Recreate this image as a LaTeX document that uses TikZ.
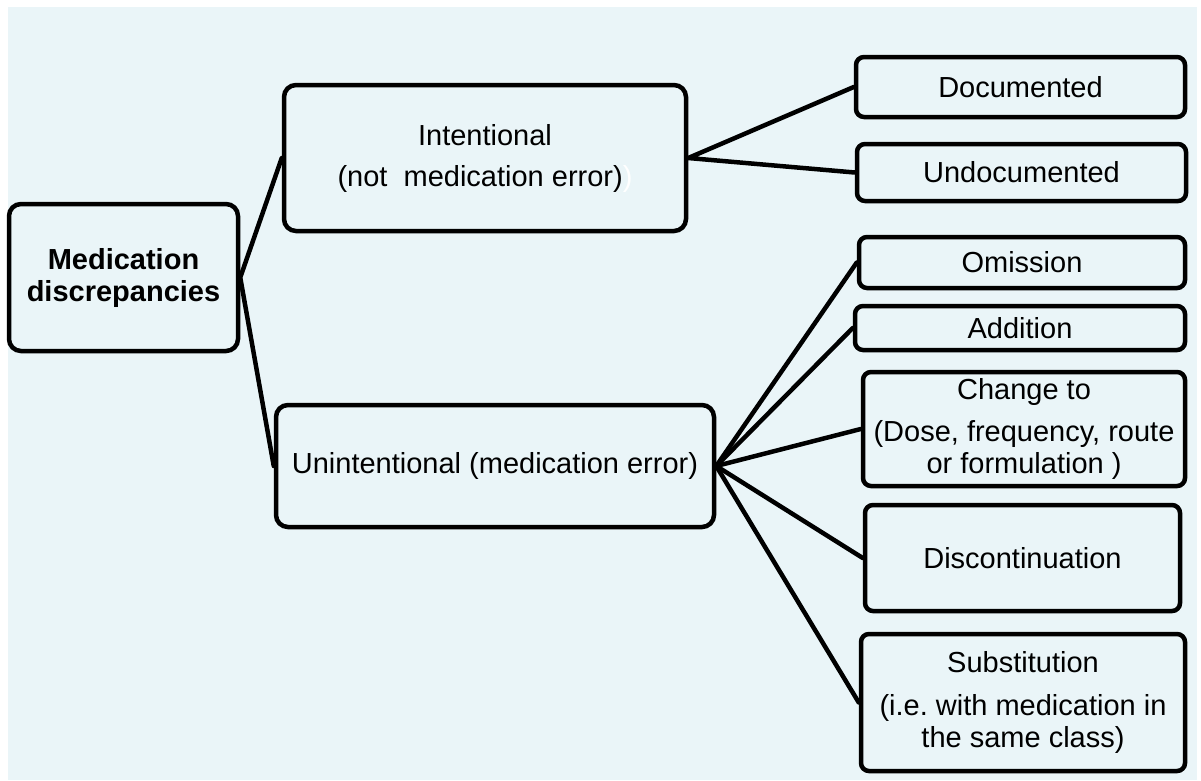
\documentclass[tikz,border=0pt]{standalone}
\usepackage{fontspec}
\setmainfont{Liberation Sans}
\definecolor{bgc}{RGB}{234,245,248}
\begin{document}
\begin{tikzpicture}[x=1pt,y=-1pt,
  box/.style={draw=black, line width=4.5pt, rounded corners=12pt, inner sep=0pt, align=center,
    font=\fontsize{29}{32}\selectfont},
  sbox/.style={box, rounded corners=8pt},
  conn/.style={draw=black, line width=4.5pt, line cap=round, line join=round}]
\useasboundingbox (0,0) rectangle (1201,780);
\fill[bgc] (8,7) rectangle (1197,780);
% nodes
\node[box, minimum width=229pt, minimum height=147pt] (med) at (123.5,277.5)
  {\textbf{Medication}\\\textbf{discrepancies}};
\node[box, minimum width=402pt, minimum height=146pt] (int) at (485,158)
  {Intentional\\[9pt](not\ \ medication error){\color{white})}};
\node[box, minimum width=438pt, minimum height=122pt] (unint) at (495,466)
  {Unintentional (medication error)};
\node[sbox, minimum width=329pt, minimum height=60pt] (doc) at (1020.5,87) {Documented};
\node[sbox, minimum width=329pt, minimum height=57pt] (undoc) at (1021.5,172.5) {Undocumented};
\node[sbox, minimum width=326pt, minimum height=51pt] (om) at (1022,262.5) {Omission};
\node[sbox, minimum width=330pt, minimum height=44pt] (add) at (1020,328) {Addition};
\node[sbox, minimum width=322pt, minimum height=114pt] (chg) at (1024,429)
  {Change to\\[10pt](Dose, frequency, route\\or formulation )};
\node[sbox, minimum width=315pt, minimum height=106pt] (disc) at (1022.5,558) {Discontinuation};
\node[sbox, minimum width=324pt, minimum height=137pt] (sub) at (1023,702.5)
  {Substitution\\[11pt](i.e.\ with medication in\\the same class)};
% connectors
\draw[conn] (int.west) -- (med.east) -- (unint.west);
\draw[conn] (doc.west) -- (int.east) -- (undoc.west);
\draw[conn] (unint.east) -- (om.west);
\draw[conn] (unint.east) -- (add.west);
\draw[conn] (unint.east) -- (chg.west);
\draw[conn] (unint.east) -- (disc.west);
\draw[conn] (unint.east) -- (sub.west);
\end{tikzpicture}
\end{document}
